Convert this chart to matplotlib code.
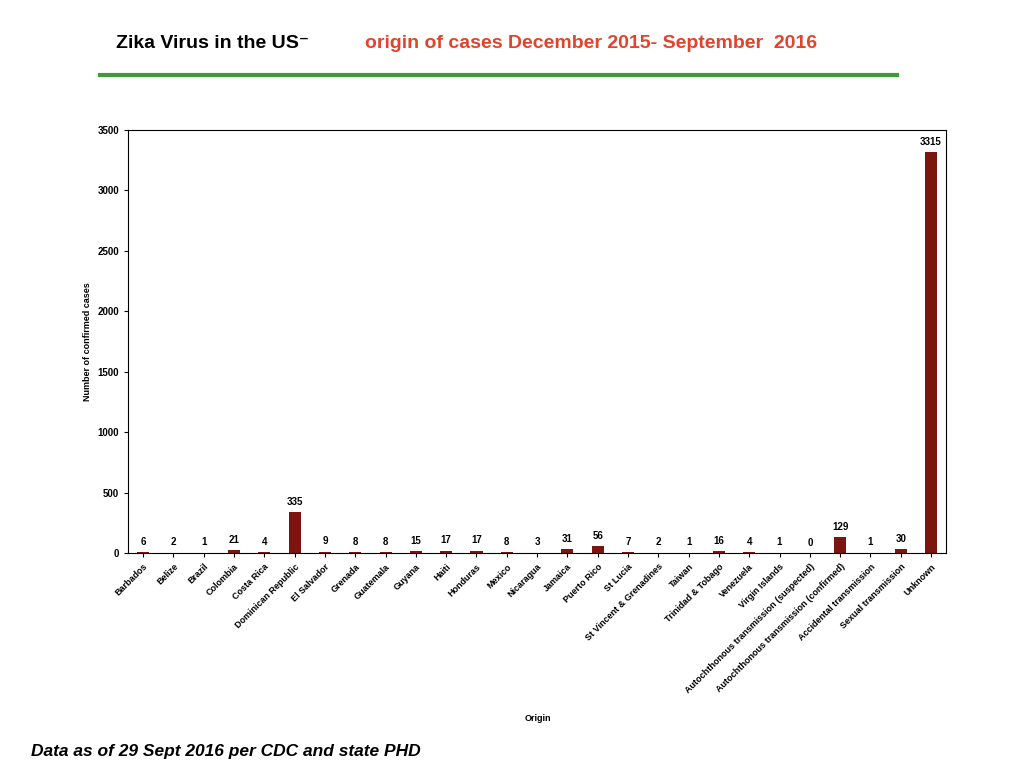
import numpy as np
import matplotlib.pyplot as plt

plt.rcParams['font.family'] = ['Liberation Sans', 'DejaVu Sans']

origins = ["Barbados", "Belize", "Brazil", "Colombia", "Costa Rica",
           "Dominican Republic", "El Salvador", "Grenada", "Guatemala",
           "Guyana", "Haiti", "Honduras", "Mexico", "Nicaragua", "Jamaica",
           "Puerto Rico", "St Lucia", "St Vincent & Grenadines", "Taiwan",
           "Trinidad & Tobago", "Venezuela", "Virgin Islands",
           "Autochthonous transmission (suspected)",
           "Autochthonous transmission (confirmed)",
           "Accidental transmission", "Sexual transmission", "Unknown"]
cases = [6, 2, 1, 21, 4, 335, 9, 8, 8, 15, 17, 17, 8, 3, 31, 56, 7, 2, 1,
         16, 4, 1, 0, 129, 1, 30, 3315]

fig = plt.figure(figsize=(10.24, 7.68), dpi=100)
ax = fig.add_axes([0.125, 0.280, 0.799, 0.551])

x = np.arange(len(origins))
ax.bar(x, cases, width=0.4, color="#7a1510")
for xi, v in zip(x, cases):
    ax.text(xi, v + 45, str(v), ha="center", va="bottom",
            fontsize=7, fontweight="bold")

ax.set_xlim(-0.5, len(origins) - 0.5)
ax.set_ylim(0, 3500)
ax.set_yticks(range(0, 3501, 500))
ax.set_xticks(x)
ax.set_xticklabels(origins, rotation=45, ha="right", rotation_mode="anchor",
                   fontsize=6.5, fontweight="bold")
ax.tick_params(axis="y", labelsize=7)
for lab in ax.get_yticklabels():
    lab.set_fontweight("bold")
ax.tick_params(length=3)
ax.set_ylabel("Number of confirmed cases", fontsize=6.5, fontweight="bold")
fig.text(0.525, 0.065, "Origin", fontsize=6.5, fontweight="bold",
         ha="center", va="center")

fig.text(0.113, 0.943, "Zika Virus in the US\u207b", fontsize=14,
         fontweight="bold", color="black", va="center")
fig.text(0.356, 0.943, "origin of cases December 2015- September  2016",
         fontsize=14, fontweight="bold", color="#e0442c", va="center")
fig.add_artist(plt.Line2D([0.098, 0.876], [0.902, 0.902], color="#3e9a3a",
                          linewidth=3))
fig.text(0.03, 0.022, "Data as of 29 Sept 2016 per CDC and state PHD",
         fontsize=12.5, fontweight="bold", style="italic", va="center")

fig.savefig("out.png")
